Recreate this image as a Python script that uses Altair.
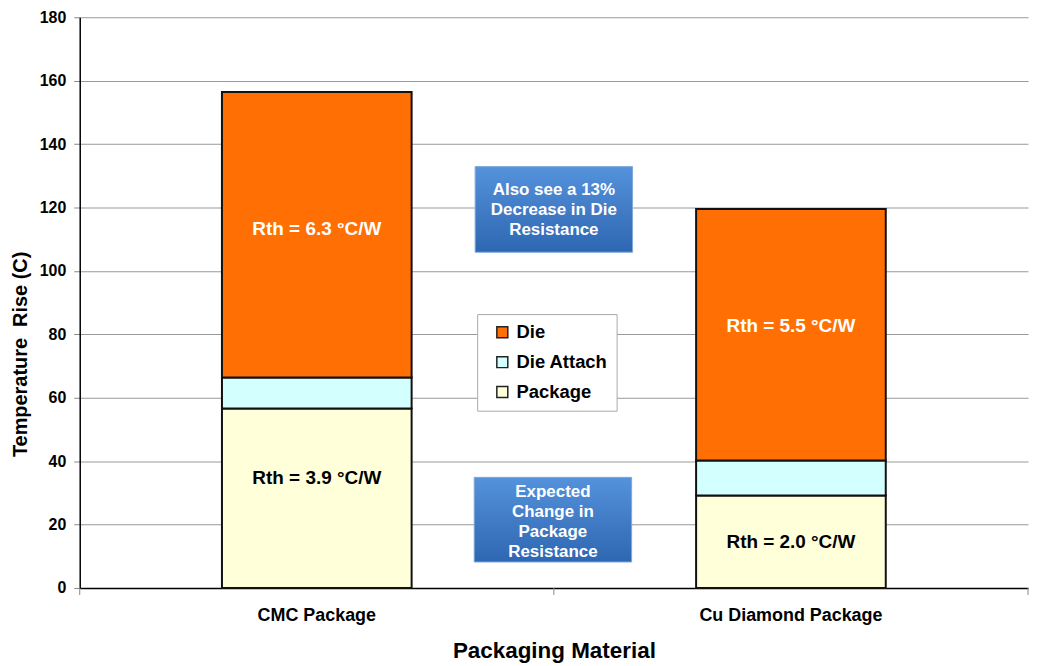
import altair as alt
import pandas as pd

categories = ["CMC Package", "Cu Diamond Package"]
series = ["Die", "Die Attach", "Package"]
package_vals = [56.6, 29.2]
die_attach_vals = [9.8, 11.0]
die_vals = [90.0, 79.3]
series_colors = ["#FF6F03", "#D4FFFF", "#FFFFDA"]
y_ticks = [0, 20, 40, 60, 80, 100, 120, 140, 160, 180]

rth_text = ["Rth = 6.3 °C/W", "Rth = 3.9 °C/W", "Rth = 5.5 °C/W", "Rth = 2.0 °C/W"]
rth_cat = ["CMC Package", "CMC Package", "Cu Diamond Package", "Cu Diamond Package"]
rth_y = [113.1, 34.6, 82.6, 14.5]
rth_color = ["white", "black", "white", "black"]

note_text = ["Also see a 13%\nDecrease in Die\nResistance",
             "Expected\nChange in\nPackage\nResistance"]
note_x0 = [0.417, 0.416]
note_x1 = [0.583, 0.582]
note_y0 = [105.9, 8.2]
note_y1 = [132.9, 34.9]
note_ty = [125.4, 30.2]

FONT = "Liberation Sans"
NARROW = "Liberation Sans Narrow, Arial Narrow, Liberation Sans"

rows = []
for i, c in enumerate(categories):
    rows.append({"cat": c, "series": "Package", "value": package_vals[i], "rank": 0})
    rows.append({"cat": c, "series": "Die Attach", "value": die_attach_vals[i], "rank": 1})
    rows.append({"cat": c, "series": "Die", "value": die_vals[i], "rank": 2})
bar_df = pd.DataFrame(rows)

rth_df = pd.DataFrame({"cat": rth_cat, "y": rth_y, "text": rth_text, "tc": rth_color})
note_df = pd.DataFrame({"text": note_text, "x0": note_x0, "x1": note_x1,
                        "y0": note_y0, "y1": note_y1, "ty": note_ty})
note_df["xc"] = (note_df["x0"] + note_df["x1"]) / 2
tick_df = pd.DataFrame({"cat": categories})
tick_end_df = pd.DataFrame({"cat": categories[-1:]})

xscale = alt.Scale(domain=categories, paddingInner=0, paddingOuter=0)
xaxis = alt.Axis(title="Packaging Material", labelAngle=0, ticks=False, labelLimit=400,
                 labelFont=NARROW, labelFontSize=18, labelFontWeight="bold",
                 labelColor="black", labelPadding=19,
                 titleFont=NARROW, titleFontSize=22.5, titleFontWeight="bold",
                 titleColor="black", titlePadding=15,
                 domainColor="black", domainWidth=1.5, grid=False)
yaxis = alt.Axis(values=y_ticks, title="Temperature\u00a0 Rise (C)",
                 labelFont=FONT, labelFontSize=16, labelFontWeight="bold",
                 labelColor="black", labelPadding=8,
                 titleFont=FONT, titleFontSize=20, titleFontWeight="bold",
                 titleColor="black", titlePadding=9, titleY=338,
                 tickColor="#888", tickSize=6,
                 domainColor="black", domainWidth=1.5,
                 grid=True, gridColor="#999", gridWidth=1)

bars = alt.Chart(bar_df).mark_bar(
    stroke="#111", strokeWidth=2, width=alt.RelativeBandSize(0.4)
).encode(
    x=alt.X("cat:N", sort=categories, scale=xscale, axis=xaxis),
    y=alt.Y("value:Q", stack="zero", scale=alt.Scale(domain=[0, 180], nice=False), axis=yaxis),
    color=alt.Color("series:N", scale=alt.Scale(domain=series, range=series_colors),
                    legend=alt.Legend(title=None, orient="none", legendX=399, legendY=298,
                                      fillColor="white", strokeColor="#aaa",
                                      padding=9, symbolOffset=7,
                                      symbolType="square", symbolSize=121,
                                      symbolStrokeColor="#222", symbolStrokeWidth=1.5,
                                      labelFont=FONT, labelFontSize=18.5, labelFontWeight="bold",
                                      labelColor="black", labelOffset=5, rowPadding=11)),
    order=alt.Order("rank:Q"),
)

rth = alt.Chart(rth_df).mark_text(
    font=FONT, fontSize=19, fontWeight="bold"
).encode(
    x=alt.X("cat:N", sort=categories, scale=xscale, axis=xaxis),
    y=alt.Y("y:Q", axis=yaxis),
    text="text:N",
    color=alt.Color("tc:N", scale=None),
)

ticks0 = alt.Chart(tick_df).mark_rule(color="#888", strokeWidth=1).encode(
    x=alt.X("cat:N", sort=categories, scale=xscale, bandPosition=0, axis=xaxis),
    y=alt.value(573), y2=alt.value(580),
)
ticks1 = alt.Chart(tick_end_df).mark_rule(color="#888", strokeWidth=1).encode(
    x=alt.X("cat:N", sort=categories, scale=xscale, bandPosition=1, axis=xaxis),
    y=alt.value(573), y2=alt.value(580),
)

base = alt.layer(bars, rth, ticks0, ticks1)

blue = alt.LinearGradient(
    gradient="linear",
    stops=[alt.GradientStop(color="#5592DC", offset=0),
           alt.GradientStop(color="#2E66B2", offset=1)],
    x1=0, x2=0, y1=0, y2=1,
)

nscale = alt.Scale(domain=[0, 1], nice=False, zero=False)
note_rect = alt.Chart(note_df).mark_rect(
    fill=blue, stroke="#7FA8DA", strokeWidth=1
).encode(
    x=alt.X("x0:Q", scale=nscale, axis=None),
    x2="x1:Q",
    y=alt.Y("y0:Q", axis=yaxis),
    y2="y1:Q",
)
note_txt = alt.Chart(note_df).mark_text(
    font=FONT, fontSize=17, fontWeight="bold", color="white",
    lineBreak="\n", lineHeight=20, baseline="middle"
).encode(
    x=alt.X("xc:Q", scale=nscale, axis=None),
    y=alt.Y("ty:Q", axis=yaxis),
    text="text:N",
)
notes = alt.layer(note_rect, note_txt)

chart = alt.layer(base, notes).resolve_scale(x="independent").properties(
    width=952, height=573,
    padding={"left": 2, "top": 0, "right": 0, "bottom": 0},
).configure_view(stroke=None)

chart.save("out.html", embed_options={"renderer": "svg", "actions": False})
